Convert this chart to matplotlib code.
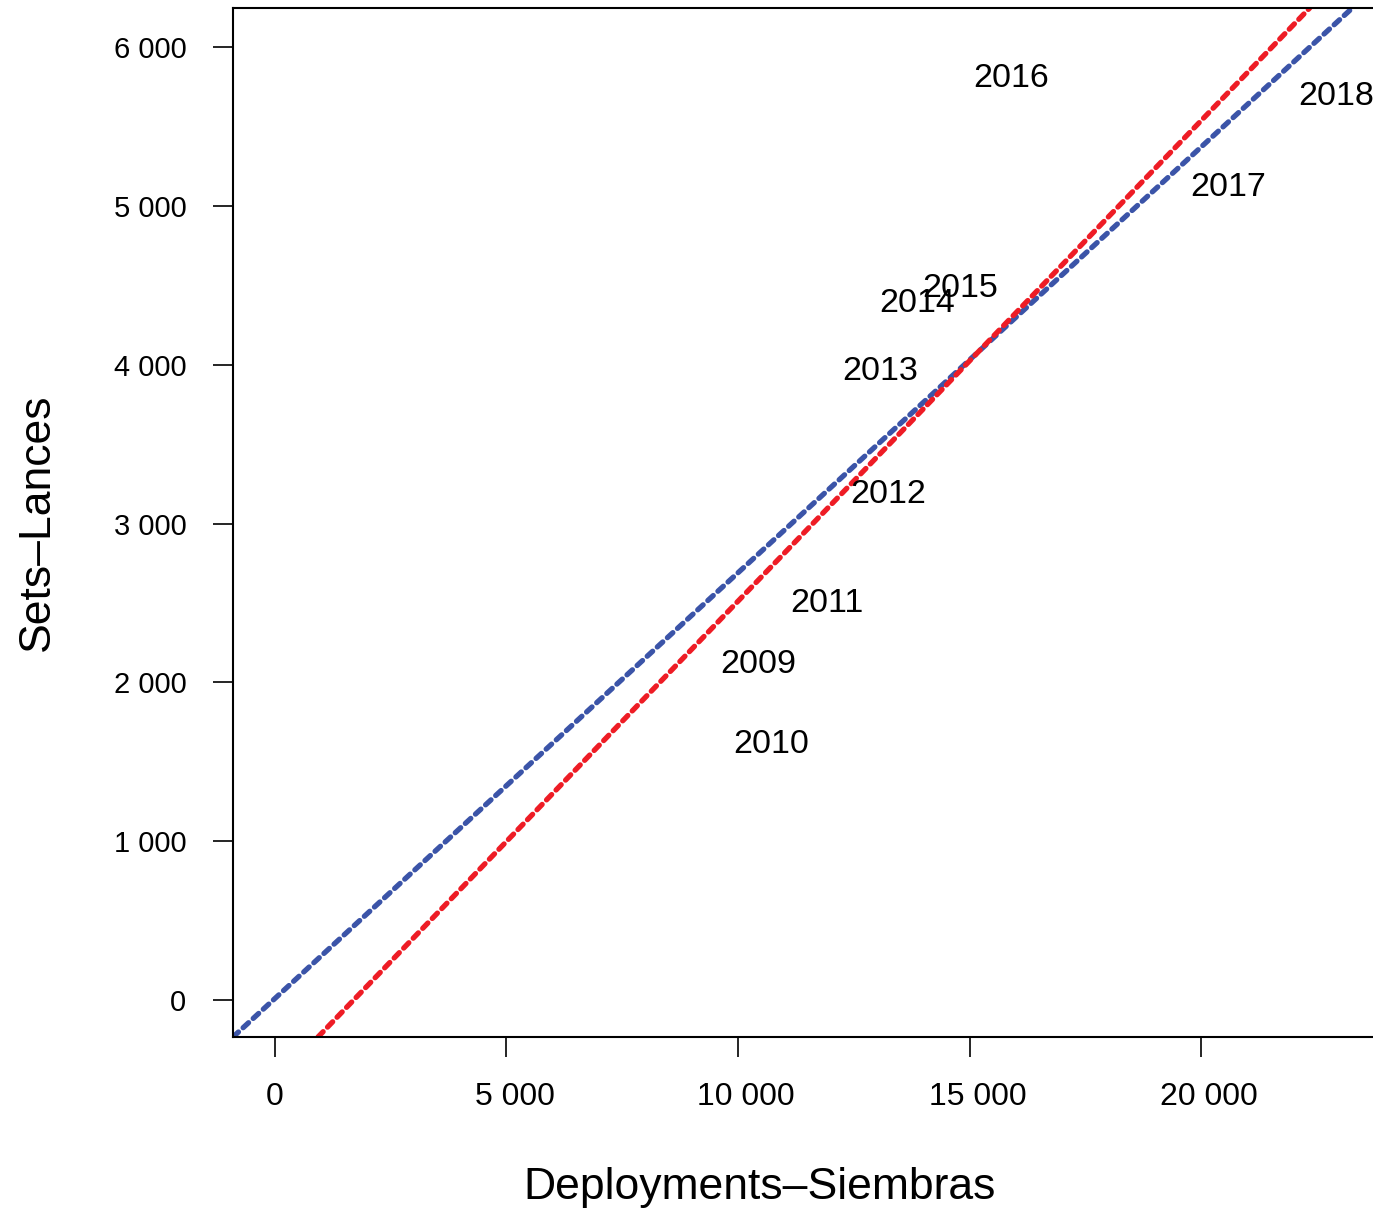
import matplotlib
matplotlib.use('Agg')
import matplotlib.pyplot as plt
import matplotlib.transforms as mtransforms
import numpy as np

plt.rcParams['font.family'] = ['Liberation Sans', 'DejaVu Sans']

# 年份标签及其位置
years = ['2009', '2010', '2011', '2012', '2013', '2014', '2015', '2016', '2017', '2018']
deployments = [10430, 10710, 11920, 13240, 13070, 13870, 14800, 15900, 20580, 22920]
sets = [2135, 1630, 2520, 3205, 3980, 4405, 4500, 5825, 5140, 5710]

# 两条拟合线：截距、斜率
blue_fit = (10, 0.2680)
red_fit = (-514, 0.3025)

x_ticks = [0, 5000, 10000, 15000, 20000]
y_ticks = [0, 1000, 2000, 3000, 4000, 5000, 6000]

def fmt(v):
    return f'{v:,}'.replace(',', ' ')

W, H = 1373, 1211
fig = plt.figure(figsize=(W / 100, H / 100), dpi=100)
ax = fig.add_axes([233 / W, 1 - 1037 / H, (1380 - 233) / W, (1037 - 8) / H])

ax.set_xlim(-907, 23866)
ax.set_ylim(-233, 6246)

for (b, m), col in [(blue_fit, '#3B54A8'), (red_fit, '#EE1C25')]:
    ax.axline((0, b), slope=m, color=col, lw=3.8, dashes=(1.4, 1.2),
              dash_capstyle='round')

# 标签文字，居中于数据点
for yr, x, y in zip(years, deployments, sets):
    ax.text(x, y, yr, ha='center', va='center_baseline', fontsize=24.5)

ax.set_xticks(x_ticks)
ax.set_xticklabels([fmt(v) for v in x_ticks])
ax.set_yticks(y_ticks)
ax.set_yticklabels([fmt(v) for v in y_ticks])
ax.tick_params(axis='both', length=14.5, width=1.2, direction='out')
ax.tick_params(axis='x', pad=18, labelsize=23)
ax.tick_params(axis='y', pad=19, labelsize=21)
ax.spines['right'].set_visible(False)
for s in ['left', 'bottom', 'top']:
    ax.spines[s].set_linewidth(1.5)

# 原图中带空格的x刻度标签略向右偏
shift = mtransforms.ScaledTranslation(8 / 100, 0, fig.dpi_scale_trans)
for lab in ax.get_xticklabels()[1:]:
    lab.set_transform(lab.get_transform() + shift)

fig.text(760 / W, 1 - 1187 / H, 'Deployments–Siembras', ha='center', va='center',
         fontsize=32)
fig.text(37 / W, 1 - 522 / H, 'Sets–Lances', ha='center', va='center',
         rotation=90, fontsize=32)

fig.savefig('out.png', dpi=100)
